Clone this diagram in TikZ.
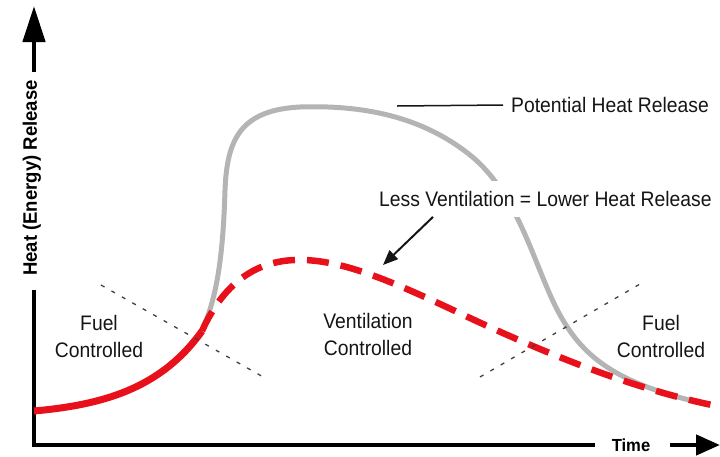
\documentclass[tikz,border=0pt]{standalone}
\usepackage{fontspec}
\setmainfont{Liberation Sans}
\newfontfamily\lblfont{Liberation Sans}[FakeStretch=0.92]
\newfontfamily\axfont{Liberation Sans}[FakeStretch=0.95]
\usetikzlibrary{arrows.meta}
\definecolor{curvegray}{HTML}{B4B4B4}
\definecolor{firered}{HTML}{E8101A}
\definecolor{txt}{HTML}{151515}
\definecolor{dotgray}{HTML}{404040}
\begin{document}
\begin{tikzpicture}[x=1pt,y=-1pt,
  axisline/.style={line width=4.5pt, black},
  yarrow/.style={axisline, -{Triangle[length=36pt,width=22pt]}},
  xarrow/.style={axisline, -{Triangle[length=24pt,width=20pt]}},
  axislabel/.style={font=\axfont\bfseries\fontsize{19.5}{22}\selectfont, text=black, inner sep=0pt},
  lbl/.style={font=\lblfont\fontsize{21}{27}\selectfont, align=center, text=txt, inner sep=0pt},
  potential/.style={line width=5pt, curvegray},
  actualsolid/.style={line width=7pt, firered},
  actualdash/.style={line width=6.5pt, firered, dash pattern=on 22pt off 12pt},
  regionline/.style={line width=1.3pt, dotgray, dash pattern=on 4pt off 8pt},
  pointer/.style={line width=2pt, txt, -{Triangle[length=15pt,width=12pt]}},
  leader/.style={line width=1.5pt, txt}]
\useasboundingbox (0,0) rectangle (720,456);

% axes
\coordinate (ytip) at (34,6);
\coordinate (ytopend) at (34,72);
\coordinate (ybotstart) at (34,290);
\coordinate (origin) at (34,445);
\coordinate (xend) at (595,445);
\coordinate (xarrstart) at (670,445);
\coordinate (xtip) at (720,445);
\draw[yarrow] (ytopend) -- (ytip);
\draw[axisline] (ybotstart) -- (origin) -- (xend);
\draw[xarrow] (xarrstart) -- (xtip);
\node[axislabel, rotate=90] (ylab) at (32,178) {Heat (Energy) Release};
\node[axislabel, font=\axfont\bfseries\fontsize{17.5}{20}\selectfont] (time) at (631,445) {Time};

% potential heat release curve
\draw[potential] (202,330) .. controls (216,300) and (223,260) .. (225,190)
  .. controls (227,140) and (240,110) .. (300,107)
  .. controls (360,105) and (420,115) .. (470,155)
  .. controls (520,195) and (535,270) .. (560,315)
  .. controls (585,360) and (620,385) .. (710,405);

% actual heat release curve
\draw[actualsolid] (34,411) .. controls (100,405) and (160,390) .. (202,331);
\draw[actualdash] (202,331) .. controls (225,280) and (260,258) .. (305,260)
  .. controls (350,262) and (400,285) .. (470,318)
  .. controls (560,360) and (640,390) .. (712,405);

% region boundaries
\coordinate (dlA) at (101,285);
\coordinate (dlB) at (265,378);
\coordinate (drA) at (480,377);
\coordinate (drB) at (640,284);
\draw[regionline] (dlA) -- (dlB);
\draw[regionline] (drA) -- (drB);

% labels
\node[lbl] (fuelL) at (99,336) {Fuel\\Controlled};
\node[lbl] (vent) at (368,334) {Ventilation\\Controlled};
\node[lbl] (fuelR) at (661,336) {Fuel\\Controlled};

\node[lbl, anchor=west, inner xsep=8pt] (pot) at (503,105) {Potential Heat Release};
\coordinate (potstart) at (397,106);
\draw[leader] (potstart) -- (pot.west);

\node[lbl, fill=white, anchor=west, inner xsep=3pt, inner ysep=10pt] (less) at (376,199) {Less Ventilation = Lower Heat Release};
\coordinate (arrowtip) at (383,265);
\draw[pointer] ([xshift=57pt]less.south west) -- (arrowtip);
\end{tikzpicture}
\end{document}
